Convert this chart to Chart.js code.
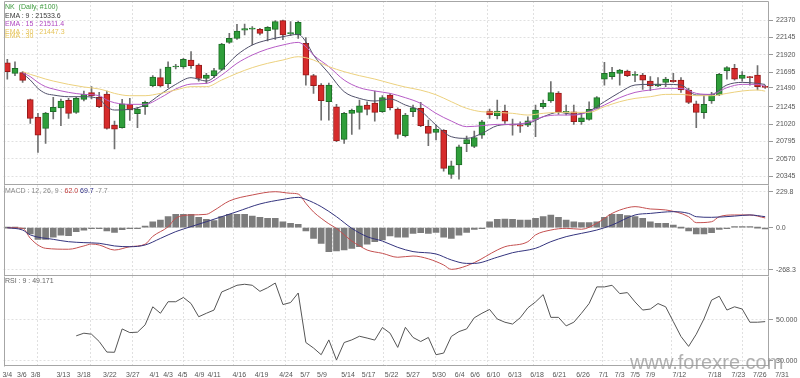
<!DOCTYPE html>
<html>
<head>
<meta charset="utf-8">
<script src="https://cdn.jsdelivr.net/npm/chart.js@4.4.1/dist/chart.umd.min.js"></script>
<style>
  body { margin: 0; background: #fff; width: 800px; height: 378px; overflow: hidden; position: relative; font-family: "Liberation Sans", Arial, sans-serif; }
  canvas { position: absolute; left: 0; }
  .t { position: absolute; left: 5px; font-size: 7px; line-height: 1; white-space: pre; }
  .wm { position: absolute; left: 630px; top: 352px; font-size: 20px; line-height: 1; color: rgba(150,150,150,0.75); white-space: pre; }
</style>
</head>
<body>
<canvas id="priceChart" width="800" height="186" style="top:0"></canvas>
<canvas id="macdChart" width="800" height="91" style="top:185px"></canvas>
<canvas id="rsiChart" width="800" height="102" style="top:276px"></canvas>

<div class="t" style="top:2.5px;color:#3c9a3c">NK  (Daily, #100)</div>
<div class="t" style="top:11.5px;color:#3a3a3a">EMA : 9 : 21533.6</div>
<div class="t" style="top:19.8px;color:#b048c0">EMA : 15 : 21511.4</div>
<div class="t" style="top:27.5px;color:#e6c45a">EMA : 30 : 21447.3</div>
<div class="t" style="top:32.2px;color:#e6c45a">EMA : 30</div>
<div class="t" style="top:186.8px;color:#888">MACD : 12, 26, 9 : <span style="color:#c03a3a">62.0</span> <span style="color:#2a2a80">69.7</span> -7.7</div>
<div class="t" style="top:277.3px;color:#666">RSI : 9 : 49.171</div>
<div class="wm">www.forexre.com</div>

<script>
// ローソク足 (100本, 3/4 〜 7/31)
const opens = [21816,21678,21687,21336,21111,20964,21180,21228,21328,21172,
  21340,21427,21366,21410,21007,20973,21276,21154,21245,21518,
  21622,21544,21760,21760,21851,21786,21613,21648,21730,22080,
  22132,22240,22253,22249,22232,22249,22362,22193,22176,22067,
  21648,21527,21310,21245,20821,21159,21172,21267,21293,21180,
  21397,21215,20869,21180,21224,20990,20912,20938,20367,20488,
  20765,20730,20877,21189,21128,21189,21016,21007,21007,21081,
  21245,21319,21423,21172,21180,21051,21081,21224,21604,21635,
  21678,21708,21652,21656,21578,21514,21561,21587,21591,21462,
  21284,21167,21319,21397,21708,21743,21613,21630,21656,21501];
const highs = [21860,21829,21700,21345,21159,21172,21366,21345,21353,21366,
  21449,21505,21431,21449,21059,21340,21353,21237,21319,21648,
  21734,21829,21795,21873,21959,21803,21678,21743,22067,22197,
  22314,22318,22284,22262,22284,22362,22370,22349,22357,22141,
  21665,21544,21553,21276,21172,21215,21332,21310,21449,21388,
  21414,21232,21159,21267,21301,21072,21007,20947,20540,20748,
  20865,20929,21068,21215,21332,21267,21085,21050,21115,21267,
  21332,21570,21440,21267,21267,21159,21310,21375,21821,21756,
  21730,21721,21700,21678,21635,21622,21626,21678,21622,21483,
  21319,21397,21431,21678,21765,21795,21700,21639,21778,21522];
const lows = [21604,21648,21561,21029,20652,20769,21085,20999,21094,21159,
  21319,21345,21232,20955,20696,20965,21068,20973,21146,21505,
  21501,21492,21734,21743,21743,21578,21548,21622,21717,22067,
  22119,22176,22046,22176,22098,22119,22115,22167,22132,21526,
  21418,21072,21072,20791,20769,20886,20955,21137,21059,21172,
  21202,20834,20852,21115,20986,20739,20813,20410,20315,20306,
  20661,20713,20834,21094,21085,21029,20877,20912,20986,20856,
  21224,21301,21146,21137,21016,21016,21072,21215,21526,21604,
  21526,21635,21570,21470,21453,21505,21505,21561,21431,21284,
  20973,21094,21288,21388,21604,21591,21578,21526,21462,21483];
const closes = [21700,21743,21587,21094,20877,21163,21237,21319,21159,21353,
  21405,21388,21245,20964,20955,21284,21202,21215,21301,21630,
  21514,21760,21769,21860,21778,21613,21656,21713,22059,22132,
  22228,22258,22258,22197,22275,22349,22176,22202,22340,21656,
  21518,21323,21527,20800,21159,21198,21258,21211,21172,21362,
  21232,20886,21137,21232,20999,20899,20955,20445,20479,20726,
  20817,20843,21050,21137,21189,21059,21007,20994,21063,21202,
  21288,21427,21172,21180,21051,21102,21211,21362,21678,21691,
  21721,21648,21661,21591,21514,21540,21604,21570,21462,21301,
  21172,21276,21405,21665,21752,21604,21656,21622,21505,21496];

// EMA (読み取った点)
const emaIdx = [2,3,4,5,6,8,10,12,13,14,16,18,20,22,24,26,28,30,32,34,36,38,39,40,42,44,46,48,
  50,52,54,56,58,60,62,64,66,68,70,72,74,76,78,80,82,84,86,88,90,92,94,96,98,99];
const ema9 = [21678,21591,21483,21418,21397,21375,21375,21345,21245,21202,21211,21267,21405,21535,
  21622,21578,21721,21916,22046,22111,22154,22184,22089,21916,21678,21440,21353,21319,
  21345,21267,21189,21007,20856,20834,20899,20999,21016,21029,21115,21172,21146,21189,
  21310,21431,21527,21535,21535,21527,21397,21405,21527,21561,21548,21534];
const ema15 = [21687,21635,21561,21505,21475,21431,21405,21388,21332,21297,21276,21276,21362,21475,
  21539,21548,21656,21808,21916,21994,22046,22080,22024,21916,21765,21591,21492,21449,
  21418,21362,21288,21159,21059,20986,20999,21016,21016,21042,21115,21137,21137,21180,
  21267,21362,21431,21462,21483,21483,21418,21405,21492,21535,21535,21511];
const ema30 = [21700,21665,21635,21604,21578,21535,21501,21475,21449,21418,21388,21388,21418,21462,
  21505,21505,21591,21678,21752,21808,21851,21894,21881,21851,21765,21700,21648,21604,
  21550,21500,21460,21400,21310,21224,21180,21172,21159,21137,21159,21172,21172,21172,
  21245,21310,21353,21375,21405,21405,21388,21388,21418,21449,21462,21447];

// MACD
const macdIdx = [0,2,3,4,5,8,10,11,12,14,16,18,19,21,22,24,26,27,29,32,35,37,38,39,40,41,42,43,44,45,46,47,49,
  51,53,55,57,58,59,61,64,65,68,69,71,73,75,77,79,81,82,84,86,89,90,92,93,95,97,99];
const macdLine = [0,-4,-67,-110,-131,-137,-116,-104,-110,-142,-121,-105,-55,6,60,81,85,110,170,208,229,219,214,155,100,60,25,-5,-45,-85,-115,-142,-163,
  -188,-180,-198,-237,-265,-258,-222,-142,-121,-89,-46,-15,-4,-10,28,91,127,134,119,113,70,32,38,70,81,81,62];
const sigIdx = [0,2,3,6,8,10,12,14,16,18,20,22,24,26,30,33,36,38,39,41,43,45,47,49,
  51,53,56,58,60,61,64,66,69,71,73,75,77,79,82,84,87,89,90,92,95,97,99];
const sigLine = [0,-15,-46,-74,-89,-95,-99,-116,-121,-110,-68,-25,7,38,102,151,180,193,180,134,70,-4,-57,-85,
  -125,-152,-167,-205,-227,-227,-188,-159,-131,-89,-57,-36,-15,17,81,91,102,91,70,66,74,81,70];
const macdHist = [0,0,-3,-40,-74,-74,-61,-47,-51,-25,
  -15,-3,-2,-21,-30,-13,-5,-3,10,38,
  49,70,85,85,85,66,53,45,70,85,
  85,85,74,66,60,60,38,28,21,-21,
  -68,-100,-153,-148,-142,-131,-121,-104,-89,-78,
  -53,-60,-61,-36,-32,-36,-30,-61,-68,-47,
  -30,-11,-2,38,53,55,53,49,49,60,
  70,81,66,49,38,32,32,38,66,85,
  85,77,70,60,38,28,28,17,0,-21,
  -40,-40,-32,-11,-2,2,4,2,0,-8];

// RSI (9) : index 9 から
const rsiStart = 9;
const rsiVals = [42.2,43.5,43.0,39.4,34.2,34.1,45.6,43.8,44.0,47.6,
  56.5,53.3,59.0,59.0,61.1,58.1,51.6,53.3,54.9,63.8,
  65.4,67.1,67.6,67.1,64.1,65.9,68.2,57.6,58.6,63.3,
  38.9,36.2,32.9,40.2,30.3,38.9,40.2,42.0,41.1,40.1,
  46.3,43.5,36.5,46.4,41.4,39.4,41.4,32.9,33.7,41.9,
  44.3,45.6,51.1,53.3,55.2,50.5,48.9,48.0,51.1,56.0,
  58.9,62.5,51.3,51.3,47.1,48.9,53.3,58.1,66.3,66.3,
  67.1,63.0,63.5,58.9,54.9,55.4,58.1,56.5,49.2,41.9,
  37.0,43.0,50.5,59.8,61.7,54.9,56.5,55.4,48.9,48.9,49.2];

// 目盛り
const priceTicks = [22370, 22145, 21920, 21695, 21490, 21245, 21020, 20795, 20570, 20345];
const macdTicks = [229.8, 0, -268.3];
const rsiTicks = [50, 30];
const gridIdx = [3.9, 10.9, 16.3, 23.0, 29.5, 36.4, 42.5, 49.1, 55.9, 62.7, 68.7, 77.8, 86.7, 96.1];
const dateLabels = ['3/4','3/6','3/8','3/13','3/18','3/22','3/27','4/1','4/3','4/5','4/9','4/11','4/16','4/19','4/24',
  '5/7','5/9','5/14','5/17','5/22','5/27','5/30','6/4','6/6','6/10','6/13','6/18','6/21','6/26',
  '7/1','7/3','7/5','7/9','7/12','7/18','7/23','7/26','7/31'];
const datePos = [0,1.9,3.7,7.3,10.0,13.4,16.4,19.2,21.0,22.9,25.1,27.0,30.3,33.2,36.4,
  38.9,41.1,44.5,47.2,50.2,53.0,56.4,59.1,61.1,63.5,66.3,69.2,72.1,75.2,
  77.9,80.0,82.0,84.0,87.8,92.4,95.5,98.3,101.2];

Chart.defaults.font.family = 'Liberation Sans';
Chart.defaults.animation = false;
Chart.defaults.plugins.legend.display = false;
Chart.defaults.plugins.tooltip.enabled = false;

const GRID = '#e0e0e0';
const FONT = { family: 'Liberation Sans', size: 7 };

const frame = {
  id: 'frame',
  afterDraw(c, args, opts) {
    const a = c.chartArea, g = c.ctx;
    const l = Math.round(a.left) + 0.5, r = Math.round(a.right) - 0.5;
    const t = Math.round(a.top) + 0.5, b = Math.round(a.bottom) - 0.5;
    g.save();
    g.strokeStyle = '#a6a6a6';
    g.lineWidth = 1;
    g.beginPath();
    g.moveTo(l, t); g.lineTo(l, b + 1);
    g.moveTo(r, t); g.lineTo(r, b + 1);
    g.moveTo(l, b); g.lineTo(r, b);
    if (opts.top) { g.moveTo(l, t); g.lineTo(r, t); }
    g.stroke();
    g.restore();
  }
};

function dataX() {
  return { type: 'linear', min: -0.5, max: 99.5, offset: false, display: false };
}

function gridX() {
  return {
    type: 'linear', min: -0.5, max: 99.5, offset: false, position: 'bottom',
    afterBuildTicks: s => { s.ticks = gridIdx.map(v => ({ value: v })); },
    afterFit: s => { s.height = 0; s.paddingLeft = 0; s.paddingRight = 0; },
    ticks: { display: false },
    grid: { color: GRID, drawTicks: false, offset: false },
    border: { display: false, dash: [2, 2] }
  };
}

function rightAxis(min, max, vals, fmt) {
  return {
    position: 'right', min: min, max: max,
    afterBuildTicks: s => { s.ticks = vals.map(v => ({ value: v })); },
    afterFit: s => { s.width = 31; s.paddingTop = 0; s.paddingBottom = 0; },
    ticks: { color: '#555', font: FONT, padding: 3, callback: v => fmt(v) },
    grid: { color: GRID, tickLength: 4, tickColor: '#999' },
    border: { display: false, dash: [2, 2] }
  };
}

function lineSet(idx, vals, color, smooth) {
  return {
    type: 'line', xAxisID: 'x', order: 1,
    data: idx.map((x, i) => ({ x: x, y: vals[i] })),
    borderColor: color, borderWidth: 1, pointRadius: 0,
    cubicInterpolationMode: smooth ? 'monotone' : 'default', tension: 0
  };
}

// 価格チャート
const upFill = '#2f9e3a', upLine = '#1e6e27', dnFill = '#d62b2b', dnLine = '#961b1b';
new Chart(document.getElementById('priceChart'), {
  data: {
    datasets: [
      {
        type: 'bar', xAxisID: 'x', order: 3, grouped: false,
        data: lows.map((l, i) => ({ x: i, y: [l, highs[i]] })),
        backgroundColor: '#707070', barThickness: 1, minBarLength: 1
      },
      {
        type: 'bar', xAxisID: 'x', order: 2, grouped: false,
        data: opens.map((o, i) => ({ x: i, y: [o, closes[i]] })),
        backgroundColor: opens.map((o, i) => closes[i] >= o ? upFill : dnFill),
        borderColor: opens.map((o, i) => closes[i] >= o ? upLine : dnLine),
        borderWidth: 1, borderSkipped: false, barThickness: 6, minBarLength: 1
      },
      lineSet(emaIdx, ema30, '#ecd17e', true),
      lineSet(emaIdx, ema15, '#b65cc6', true),
      lineSet(emaIdx, ema9, '#50506a', true)
    ]
  },
  options: {
    responsive: false,
    layout: { padding: { left: 3.5, top: 1, right: 0, bottom: 1 } },
    scales: {
      x: dataX(),
      xg: gridX(),
      y: rightAxis(20229, 22617, priceTicks, v => String(v))
    },
    plugins: { frame: { top: true } }
  },
  plugins: [frame]
});

// MACD
new Chart(document.getElementById('macdChart'), {
  data: {
    datasets: [
      {
        type: 'bar', xAxisID: 'x', order: 3,
        data: macdHist.map((v, i) => ({ x: i, y: v })),
        backgroundColor: '#7c7c7c', barThickness: 6, minBarLength: 1
      },
      lineSet(sigIdx, sigLine, '#34347e', true),
      lineSet(macdIdx, macdLine, '#c45050', true)
    ]
  },
  options: {
    responsive: false,
    layout: { padding: { left: 3.5, top: 0, right: 0, bottom: 0 } },
    scales: {
      x: dataX(),
      xg: gridX(),
      y: rightAxis(-307.2, 271.6, macdTicks, v => v.toFixed(1))
    },
    plugins: { frame: { top: false } }
  },
  plugins: [frame]
});

// RSI
new Chart(document.getElementById('rsiChart'), {
  data: {
    datasets: [
      lineSet(rsiVals.map((v, i) => rsiStart + i), rsiVals, '#555555', false)
    ]
  },
  options: {
    responsive: false,
    layout: { padding: { left: 3.5, top: 0, right: 0, bottom: 0 } },
    scales: {
      x: {
        type: 'linear', min: -0.5, max: 99.5, offset: false, position: 'bottom',
        afterBuildTicks: s => { s.ticks = datePos.map(v => ({ value: v })); },
        afterFit: s => { s.height = 12; s.paddingLeft = 0; s.paddingRight = 0; },
        ticks: {
          autoSkip: false, maxRotation: 0, color: '#555', font: FONT, padding: 5,
          callback: (v, i) => dateLabels[i]
        },
        grid: { display: false, drawTicks: false },
        border: { display: false }
      },
      xg: gridX(),
      y: rightAxis(27.34, 71.67, rsiTicks, v => v.toFixed(3))
    },
    plugins: { frame: { top: false } }
  },
  plugins: [frame]
});
</script>
</body>
</html>
